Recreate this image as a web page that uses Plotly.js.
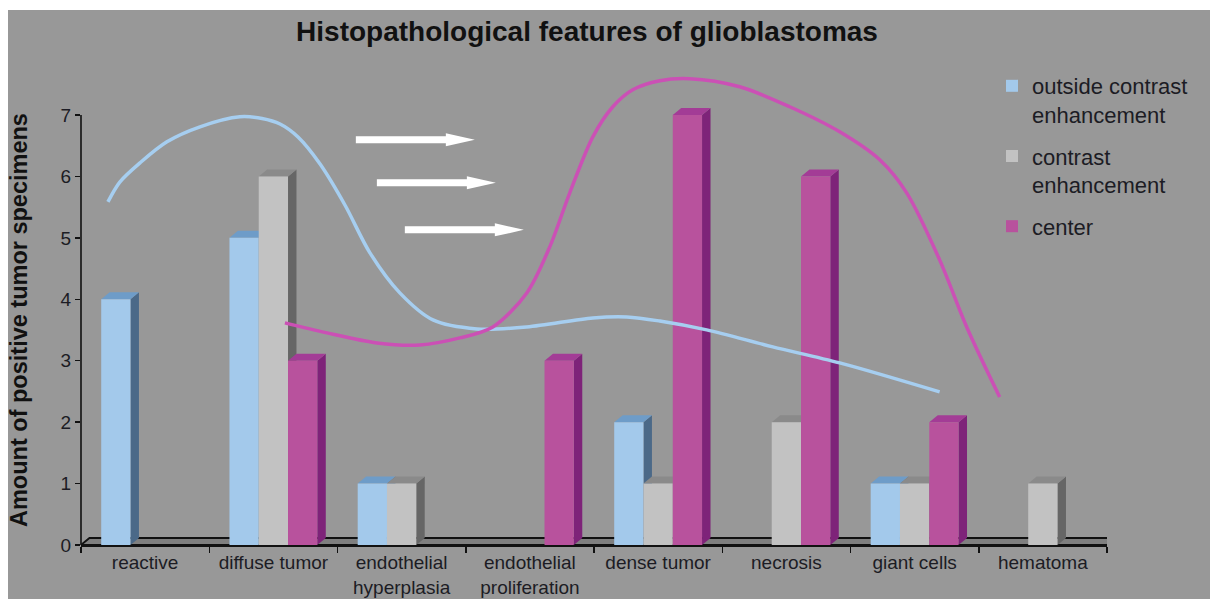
<!DOCTYPE html>
<html><head><meta charset="utf-8">
<script src="https://cdn.plot.ly/plotly-3.0.1.min.js"></script>
<style>html,body{margin:0;padding:0;background:#ffffff;} #chart{position:absolute;left:0;top:0;width:1210px;height:599px;}</style>
</head><body><div id="chart"></div>
<script>
// ---- data ----
const categories = ['reactive', 'diffuse tumor', 'endothelial<br>hyperplasia', 'endothelial<br>proliferation', 'dense tumor', 'necrosis', 'giant cells', 'hematoma'];
const outsideContrast = [4, 5, 1, 0, 2, 0, 1, 0];
const contrastEnh = [0, 6, 1, 0, 1, 2, 1, 1];
const centerVals = [0, 3, 0, 3, 7, 6, 2, 0];
const seriesNames = ['outside contrast<br>enhancement', 'contrast<br>enhancement', 'center'];
const yTicks = [0, 1, 2, 3, 4, 5, 6, 7];

// hand-drawn trend curves (category index, value)
const blueCurveX = [-0.290, -0.196, -0.040, 0.170, 0.428, 0.739, 0.911, 1.052, 1.192, 1.364, 1.558, 1.753, 1.986, 2.244, 2.587, 2.976, 3.491, 3.756, 4.013, 4.379, 4.894, 5.416, 6.195];
const blueCurveY = [5.586, 5.912, 6.221, 6.564, 6.808, 6.971, 6.943, 6.853, 6.642, 6.202, 5.535, 4.756, 4.104, 3.664, 3.518, 3.550, 3.697, 3.713, 3.646, 3.502, 3.225, 2.964, 2.492];
const magentaCurveX = [1.090, 1.417, 1.807, 2.142, 2.454, 2.711, 2.976, 3.155, 3.311, 3.491, 3.647, 3.802, 4.013, 4.247, 4.636, 5.026, 5.416, 5.728, 5.938, 6.195, 6.406, 6.663];
const magentaCurveY = [3.616, 3.453, 3.290, 3.257, 3.371, 3.550, 4.104, 4.853, 5.733, 6.645, 7.134, 7.410, 7.557, 7.590, 7.459, 7.134, 6.726, 6.270, 5.733, 4.642, 3.550, 2.410];

// white arrows (start position)
const arrowX = [1.643, 1.807, 2.025];
const arrowY = [6.596, 5.896, 5.130];

// ---- style ----
const frontColors = ['#A3C9EB', '#C2C2C2', '#B8529D'];
const sideColors = ['#4B6988', '#666666', '#7E2379'];
const topColors = ['#6E9CC8', '#8A8A8A', '#A33C96'];
const BARGAP = 0.315;
const DX = 0.066, DY = 0.114;
const FONT = 'Liberation Sans, Arial, sans-serif';
const TXT = '#1c1c24';
const PLOT_W = 1026, PLOT_H = 473, ML = 81, MT = 72;

const series = [outsideContrast, contrastEnh, centerVals];
const nCat = categories.length;

const traces = series.map((vals, i) => ({
  type: 'bar', x: categories, y: vals, name: seriesNames[i],
  marker: {color: frontColors[i], line: {width: 0}},
  legendgroup: 'g' + i, hoverinfo: 'skip'
}));
traces.push({type: 'scatter', mode: 'lines', x: blueCurveX, y: blueCurveY, xaxis: 'x2', yaxis: 'y',
  line: {color: '#A6CEF0', width: 3.5, shape: 'spline', smoothing: 0.9}, showlegend: false, hoverinfo: 'skip'});
traces.push({type: 'scatter', mode: 'lines', x: magentaCurveX, y: magentaCurveY, xaxis: 'x2', yaxis: 'y',
  line: {color: '#CB50B5', width: 3.5, shape: 'spline', smoothing: 0.9}, showlegend: false, hoverinfo: 'skip'});

const shapes = [];
// gray chart area (leaves a thin white border at left and top)
shapes.push({type: 'rect', xref: 'paper', yref: 'paper', layer: 'below',
  x0: (8 - ML) / PLOT_W, x1: (1210 - ML) / PLOT_W, y0: -(599 - MT - PLOT_H) / PLOT_H, y1: (MT + PLOT_H - 10) / PLOT_H,
  fillcolor: '#989898', line: {width: 0}});
// floor
shapes.push({type: 'path', xref: 'x2', yref: 'y', layer: 'below',
  path: `M${-0.5},0 L${-0.5 + DX},${DY} L${nCat - 0.5 + DX},${DY} L${nCat - 0.5},0 Z`,
  fillcolor: '#7f7f7f', line: {color: '#111111', width: 1.8}});
// 3D faces
const bw = (1 - BARGAP) / series.length;
for (let j = 0; j < nCat; j++) {
  series.forEach((vals, i) => {
    const v = vals[j];
    if (!v) return;
    const x0 = j - (1 - BARGAP) / 2 + i * bw, x1 = x0 + bw;
    shapes.push({type: 'path', xref: 'x2', yref: 'y', layer: 'below',
      path: `M${x1},0 L${x1 + DX},${DY} L${x1 + DX},${v + DY} L${x1},${v} Z`,
      fillcolor: sideColors[i], line: {width: 0}});
    shapes.push({type: 'path', xref: 'x2', yref: 'y', layer: 'below',
      path: `M${x0},${v} L${x0 + DX},${v + DY} L${x1 + DX},${v + DY} L${x1},${v} Z`,
      fillcolor: topColors[i], line: {width: 0}});
  });
}
// y axis line from 0 to top tick
shapes.push({type: 'line', xref: 'paper', yref: 'y', x0: 0, x1: 0, y0: -0.05, y1: yTicks[yTicks.length - 1],
  line: {color: '#111111', width: 1.6}, layer: 'above'});
// arrows
arrowX.forEach((ax, k) => {
  shapes.push({type: 'path', xref: 'x2', yref: 'y', xsizemode: 'pixel', ysizemode: 'pixel',
    xanchor: ax, yanchor: arrowY[k], layer: 'above',
    path: 'M0,-3.5 L90,-3.5 L90,-6.5 L119,0 L90,6.5 L90,3.5 L0,3.5 Z',
    fillcolor: '#ffffff', line: {width: 0}});
});

const layout = {
  width: 1210, height: 599,
  paper_bgcolor: '#ffffff', plot_bgcolor: 'rgba(0,0,0,0)',
  margin: {l: ML, r: 1210 - ML - PLOT_W, t: MT, b: 599 - MT - PLOT_H},
  font: {family: FONT, color: TXT},
  title: {text: 'Histopathological features of glioblastomas', font: {family: FONT, size: 28, weight: 'bold', color: '#111111'},
    xref: 'container', yref: 'container', x: 587 / 1210, y: 1 - 31 / 599, xanchor: 'center', yanchor: 'middle'},
  barmode: 'group', bargap: BARGAP, bargroupgap: 0,
  xaxis: {type: 'category', range: [-0.5, nCat - 0.5], tickson: 'boundaries', ticks: 'outside', ticklen: 6,
    tickcolor: '#111111', tickwidth: 1.5, showline: true, linecolor: '#111111', linewidth: 1.6,
    showgrid: false, zeroline: false, tickfont: {size: 19, color: TXT, family: FONT}, fixedrange: true},
  xaxis2: {overlaying: 'x', anchor: 'y', range: [-0.5, nCat - 0.5], visible: false, fixedrange: true},
  yaxis: {range: [0, 7.7], tickmode: 'array', tickvals: yTicks, ticks: 'outside', ticklen: 5, tickcolor: '#111111',
    tickwidth: 1.5, showline: false, showgrid: false, zeroline: false, tickfont: {size: 19, color: TXT, family: FONT},
    fixedrange: true},
  showlegend: true,
  legend: {x: (992 - ML) / PLOT_W, y: 1 + 7 / PLOT_H, xanchor: 'left', yanchor: 'top', bgcolor: 'rgba(0,0,0,0)', valign: 'top',
    font: {size: 22, color: TXT, family: FONT}, tracegroupgap: 10, traceorder: 'grouped'},
  annotations: [{text: 'Amount of positive tumor specimens', xref: 'paper', yref: 'paper', x: (19 - ML) / PLOT_W, y: (MT + PLOT_H - 320) / PLOT_H,
    textangle: -90, showarrow: false, xanchor: 'center', yanchor: 'middle',
    font: {size: 23.5, weight: 'bold', color: '#111111', family: FONT}}],
  shapes: shapes
};
Plotly.newPlot('chart', traces, layout, {displayModeBar: false, staticPlot: true});
</script></body></html>
